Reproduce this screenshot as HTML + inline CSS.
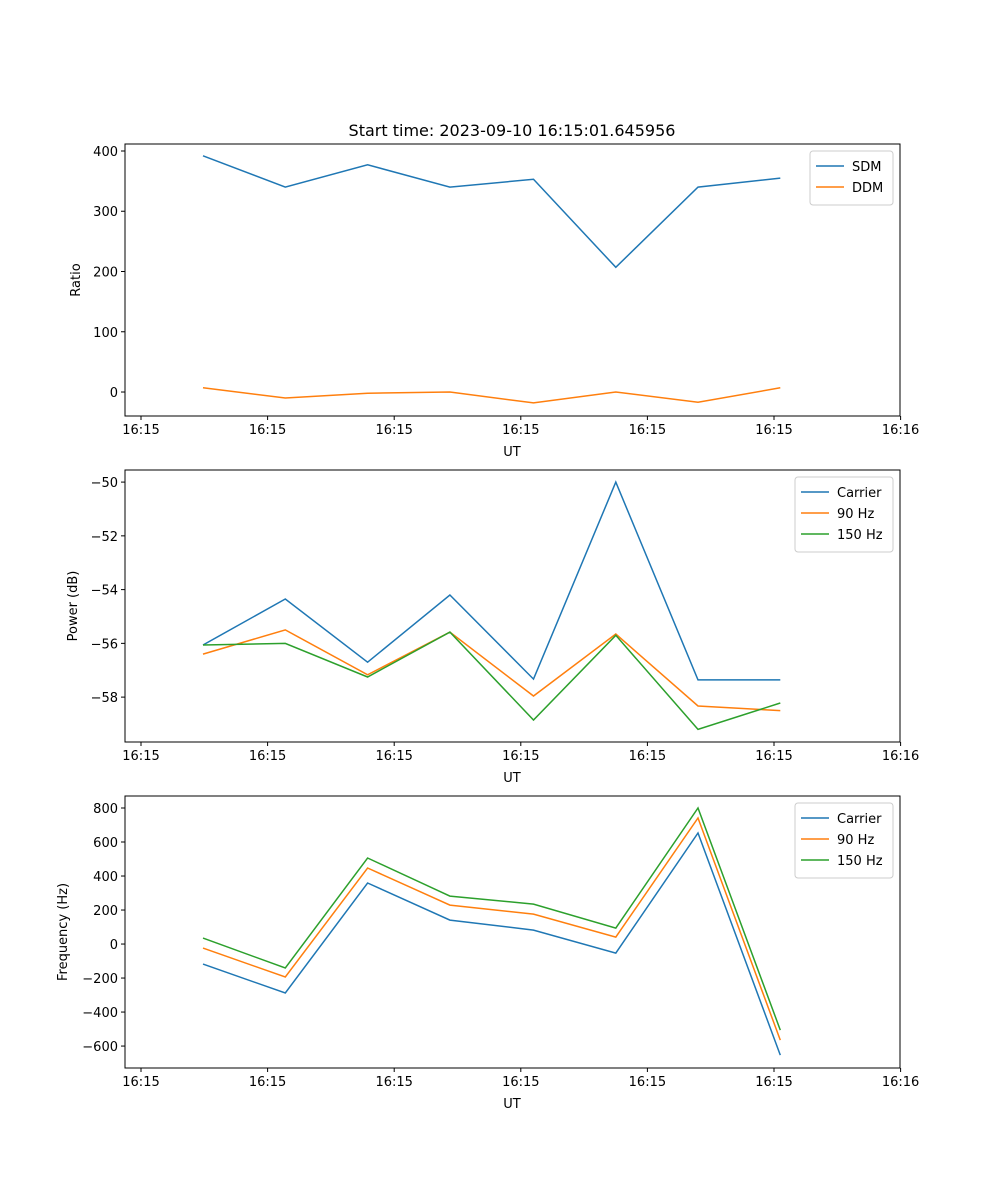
<!DOCTYPE html>
<html><head><meta charset="utf-8"><style>
body{margin:0;background:#fff}
svg{display:block;font-family:"DejaVu Sans","Liberation Sans",sans-serif}
</style></head><body>
<svg id="fig" width="1000" height="1200" viewBox="0 0 1000 1200">
<rect width="1000" height="1200" fill="#fff"/>
<text x="512" y="136" font-size="16" text-anchor="middle">Start time: 2023-09-10 16:15:01.645956</text>
</svg>
<script>
// shared x data (in tick units)
const times = [0.49, 1.14, 1.79, 2.44, 3.10, 3.75, 4.40, 5.05];
const xTickVals = [0, 1, 2, 3, 4, 5, 6];
const xTickLabels = ["16:15","16:15","16:15","16:15","16:15","16:15","16:16"];
// panel 1
const sdm = [392, 340, 377, 340, 353, 207, 340, 355];
const ddm = [7, -10, -2, 0, -18, 0, -17, 7];
const ratioTicks = [0, 100, 200, 300, 400];
// panel 2
const powCarrier = [-56.06, -54.35, -56.7, -54.2, -57.33, -50, -57.36, -57.36];
const pow90 = [-56.4, -55.5, -57.17, -55.58, -57.96, -55.65, -58.33, -58.5];
const pow150 = [-56.06, -56.0, -57.25, -55.58, -58.85, -55.7, -59.2, -58.22];
const powTicks = [-58, -56, -54, -52, -50];
// panel 3
const freqCarrier = [-118, -288, 359, 141, 82, -53, 653, -653];
const freq90 = [-24, -194, 447, 229, 176, 41, 741, -565];
const freq150 = [35, -141, 506, 282, 235, 94, 800, -506];
const freqTicks = [-600, -400, -200, 0, 200, 400, 600, 800];

const NS = "http://www.w3.org/2000/svg";
const svg = document.getElementById('fig');
const C = {blue:'#1f77b4', orange:'#ff7f0e', green:'#2ca02c'};
const L = 125, R = 900;
const xs = u => 141 + u * 126.6;
function mk(tag, attrs, parent){const e=document.createElementNS(NS,tag);for(const k in attrs)e.setAttribute(k,attrs[k]);(parent||svg).appendChild(e);return e;}

function panel(name, top, bot, ymin, ymax, yTicks, ylabel, series, legend){
  const g = mk('g', {});
  
  
  const ys = v => bot - (v - ymin) / (ymax - ymin) * (bot - top);
  // series
  series.forEach(s => {
    const p = mk('polyline', {points: s.vals.map((v,i)=>xs(times[i]).toFixed(1)+','+ys(v).toFixed(1)).join(' '), fill:'none', stroke:s.color, 'stroke-width':1.5}, g);
    
    
  });
  // axes frame
  const fr = mk('rect', {x:L, y:top, width:R-L, height:bot-top, fill:'none', stroke:'#000', 'stroke-width':1}, g);
  
  
  // x ticks
  xTickVals.forEach((t,i)=>{
    const x = xs(t);
    mk('line',{x1:x,x2:x,y1:bot,y2:bot+4,stroke:'#000'},g);
    const tx = mk('text',{x:x,y:bot+18,'font-size':13,'text-anchor':'middle'},g);
    tx.textContent = xTickLabels[i];
    
    
  });
  const xl = mk('text',{x:512,y:bot+40,'font-size':13,'text-anchor':'middle'},g);
  xl.textContent = 'UT';
  
  
  // y ticks
  yTicks.forEach(t=>{
    const y = ys(t);
    mk('line',{x1:L-4,x2:L,y1:y,y2:y,stroke:'#000'},g);
    const tx = mk('text',{x:L-7,y:y+5,'font-size':13,'text-anchor':'end'},g);
    tx.textContent = t < 0 ? '\u2212' + Math.abs(t) : String(t);
    
    
  });
  const yc = (top+bot)/2;
  const yl = mk('text',{x:0,y:0,'font-size':13,'text-anchor':'middle',transform:`translate(${legend.ylx},${yc}) rotate(-90)`},g);
  yl.textContent = ylabel;
  
  
  // legend
  const lg = mk('g',{},g);
  
  
  const h = 12 + series.length * 21;
  mk('rect',{x:legend.x,y:top+7,width:R-7-legend.x,height:h,rx:3,fill:'#fff',stroke:'#ccc','fill-opacity':0.8},lg);
  series.forEach((s,i)=>{
    const y = top + 7 + 15 + i*21;
    const e = mk('g',{},lg);
    
    
    mk('line',{x1:legend.x+6,x2:legend.x+34,y1:y,y2:y,stroke:s.color,'stroke-width':1.5},e);
    const t = mk('text',{x:legend.x+42,y:y+5,'font-size':13},e);
    t.textContent = s.label;
  });
}
panel('ratio-panel',144,416,-39.8,411.6,ratioTicks,'Ratio',
  [{vals:sdm,color:C.blue,label:'SDM',id:'sdm-line'},{vals:ddm,color:C.orange,label:'DDM',id:'ddm-line'}],{x:810,ylx:80});
panel('power-panel',470,742,-59.67,-49.55,powTicks,'Power (dB)',
  [{vals:powCarrier,color:C.blue,label:'Carrier',id:'power-carrier-line'},{vals:pow90,color:C.orange,label:'90 Hz',id:'power-90hz-line'},{vals:pow150,color:C.green,label:'150 Hz',id:'power-150hz-line'}],{x:795,ylx:77});
panel('frequency-panel',796,1068,-729,870.6,freqTicks,'Frequency (Hz)',
  [{vals:freqCarrier,color:C.blue,label:'Carrier',id:'freq-carrier-line'},{vals:freq90,color:C.orange,label:'90 Hz',id:'freq-90hz-line'},{vals:freq150,color:C.green,label:'150 Hz',id:'freq-150hz-line'}],{x:795,ylx:67});
</script>
</body></html>
